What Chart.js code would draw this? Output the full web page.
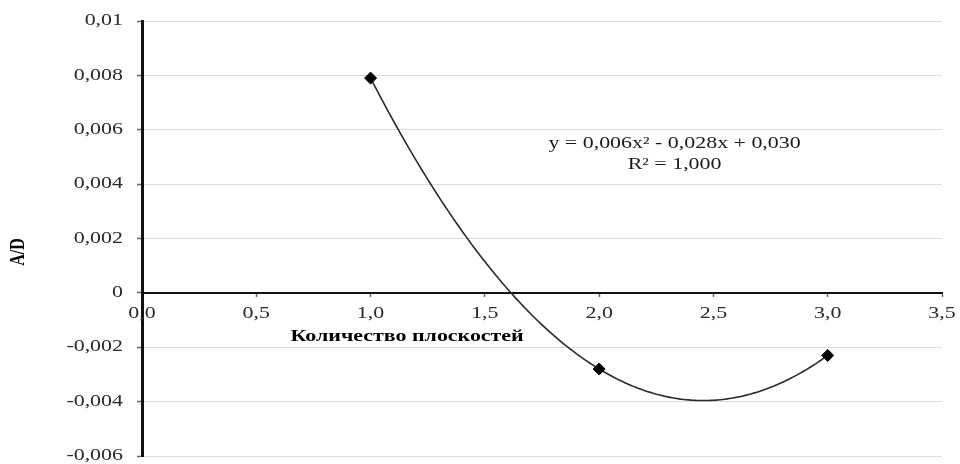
<!DOCTYPE html>
<html>
<head>
<meta charset="utf-8">
<script src="https://cdn.jsdelivr.net/npm/chart.js@4.4.1/dist/chart.umd.min.js"></script>
<style>
  html, body { margin: 0; padding: 0; background: #fff; }
  #wrap { width: 960px; height: 464px; }
</style>
</head>
<body>
<div id="wrap"><canvas id="chart" width="960" height="464"></canvas></div>
<script>
// measured points (x = number of planes, y = A/D)
const planes = [1, 2, 3];
const ratioAD = [0.0079, -0.0028, -0.0023];

// axis setup
const yTickLabels = ['-0,006', '-0,004', '-0,002', '0', '0,002', '0,004', '0,006', '0,008', '0,01'];
const xTickLabels = ['0,0', '0,5', '1,0', '1,5', '2,0', '2,5', '3,0', '3,5'];
const xTitle = 'Количество плоскостей';
const yTitle = 'A/D';
const trendLabel = ['y = 0,006x² - 0,028x + 0,030', 'R² = 1,000'];

// the picture is stretched sideways, so text gets stretched too
const STRETCH = 1.37;
const FONT = '"Liberation Serif", "Times New Roman", serif';

// quadratic least squares fit (same as the excel trendline)
function polyFit2(xs, ys) {
  let s = [0, 0, 0, 0, 0], t = [0, 0, 0];
  for (let i = 0; i < xs.length; i++) {
    for (let k = 0; k < 5; k++) s[k] += Math.pow(xs[i], k);
    for (let k = 0; k < 3; k++) t[k] += ys[i] * Math.pow(xs[i], k);
  }
  // normal equations, solved with cramer's rule
  const m = [[s[0], s[1], s[2]], [s[1], s[2], s[3]], [s[2], s[3], s[4]]];
  const det = a => a[0][0] * (a[1][1] * a[2][2] - a[1][2] * a[2][1])
    - a[0][1] * (a[1][0] * a[2][2] - a[1][2] * a[2][0])
    + a[0][2] * (a[1][0] * a[2][1] - a[1][1] * a[2][0]);
  const d = det(m);
  const coef = [];
  for (let c = 0; c < 3; c++) {
    const mc = m.map((row, r) => row.map((v, j) => (j === c ? t[r] : v)));
    coef.push(det(mc) / d);
  }
  return coef; // c0 + c1 x + c2 x^2
}
const trend = polyFit2(planes, ratioAD);

function stretchedText(ctx, text, x, y, align) {
  ctx.save();
  ctx.translate(x, y);
  ctx.scale(STRETCH, 1);
  ctx.textAlign = align;
  ctx.fillText(text, 0, 0);
  ctx.restore();
}

const trendPlugin = {
  id: 'trend',
  beforeDatasetsDraw(chart) {
    const ctx = chart.ctx;
    const xs = chart.scales.x, ys = chart.scales.y;
    const x0 = Math.min(...planes), x1 = Math.max(...planes);
    ctx.save();
    ctx.beginPath();
    for (let i = 0; i <= 200; i++) {
      const xv = x0 + (x1 - x0) * i / 200;
      const yv = trend[0] + trend[1] * xv + trend[2] * xv * xv;
      const px = xs.getPixelForValue(xv), py = ys.getPixelForValue(yv);
      if (i === 0) ctx.moveTo(px, py); else ctx.lineTo(px, py);
    }
    ctx.strokeStyle = '#2b2b2b';
    ctx.lineWidth = 1.6;
    ctx.stroke();
    ctx.restore();
  },
  afterDraw(chart) {
    const ctx = chart.ctx;
    const xs = chart.scales.x, ys = chart.scales.y;
    const area = chart.chartArea;
    const zeroY = ys.getPixelForValue(0);
    ctx.save();
    ctx.fillStyle = '#2a2a2a';
    ctx.textBaseline = 'middle';
    ctx.font = '16px ' + FONT;
    // y tick labels
    ys.ticks.forEach((t, i) => {
      stretchedText(ctx, yTickLabels[i], area.left - 19, ys.getPixelForValue(t.value), 'right');
    });
    // x tick labels, under the zero line
    xs.ticks.forEach((t, i) => {
      stretchedText(ctx, xTickLabels[i], xs.getPixelForValue(t.value), zeroY + 21, 'center');
    });
    // trendline equation
    ctx.fillStyle = '#1a1a1a';
    const ex = xs.getPixelForValue(2.33), ey = ys.getPixelForValue(0.0055);
    stretchedText(ctx, trendLabel[0], ex, ey, 'center');
    stretchedText(ctx, trendLabel[1], ex, ey + 21, 'center');
    // axis titles
    ctx.fillStyle = '#000';
    ctx.font = 'bold 16px ' + FONT;
    stretchedText(ctx, xTitle, xs.getPixelForValue(1.16), zeroY + 44, 'center');
    ctx.translate(18, ys.getPixelForValue(0.0015));
    ctx.scale(STRETCH, 1);
    ctx.rotate(-Math.PI / 2);
    ctx.textAlign = 'center';
    ctx.fillText(yTitle, 0, 0);
    ctx.restore();
  }
};

const ctx = document.getElementById('chart');

const chart = new Chart(ctx, {
  type: 'scatter',
  data: {
    datasets: [{
      data: planes.map((x, i) => ({ x: x, y: ratioAD[i] })),
      pointStyle: 'rectRot',
      pointRadius: 6,
      pointBackgroundColor: '#000',
      pointBorderColor: '#000',
      pointBorderWidth: 1,
      showLine: false
    }]
  },
  options: {
    responsive: false,
    animation: false,
    layout: { padding: { top: 21, right: 18, bottom: 8, left: 0 } },
    plugins: { legend: { display: false }, tooltip: { enabled: false } },
    scales: {
      x: {
        type: 'linear',
        position: { y: 0 },
        min: 0,
        max: 3.5,
        ticks: { stepSize: 0.5, display: false },
        grid: { drawOnChartArea: false, drawTicks: true, tickLength: 3, tickColor: '#666', tickWidth: 1.5 },
        border: { color: '#111', width: 2 },
        afterFit(scale) { scale.height = 0; }
      },
      y: {
        min: -0.006,
        max: 0.01,
        ticks: { stepSize: 0.002, display: false },
        grid: { color: '#dcdcdc', lineWidth: 1, drawTicks: true, tickLength: 5, tickColor: '#666', tickWidth: 1.5 },
        border: { color: '#111', width: 3 },
        afterFit(scale) { scale.width = 142; }
      }
    }
  },
  plugins: [trendPlugin]
});
</script>
</body>
</html>
